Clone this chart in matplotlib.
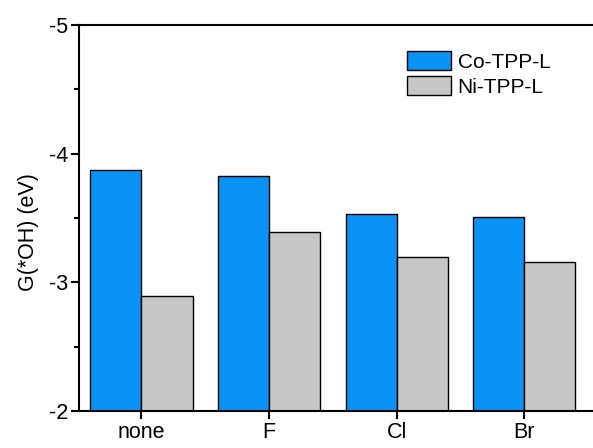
import numpy as np
import matplotlib
matplotlib.use('Agg')
import matplotlib.pyplot as plt
from matplotlib.ticker import MultipleLocator

# Daten
categories = ['none', 'F', 'Cl', 'Br']
co_values = [-3.87, -3.83, -3.53, -3.51]
ni_values = [-2.89, -3.39, -3.20, -3.16]
series_labels = ['Co-TPP-L', 'Ni-TPP-L']

plt.rcParams['font.family'] = ['Liberation Sans', 'DejaVu Sans']

fig = plt.figure(figsize=(5.93, 4.48), dpi=100)
ax = fig.add_axes([0.1332, 0.0826, 0.8668, 0.8616])

x = np.arange(len(categories))
base = -2
w = 0.4
ax.bar(x - w / 2, np.array(co_values) - base, width=w, bottom=base,
       color='#0A93F5', edgecolor='black', linewidth=1.0, label=series_labels[0])
ax.bar(x + w / 2, np.array(ni_values) - base, width=w, bottom=base,
       color='#C6C6C6', edgecolor='black', linewidth=1.0, label=series_labels[1])

ax.set_ylim(-2, -5)
ax.set_xlim(-0.49, 3.54)
ax.yaxis.set_minor_locator(MultipleLocator(0.5))
ax.set_yticks([-5, -4, -3, -2])
ax.set_yticklabels(['-5', '-4', '-3', '-2'])
ax.set_xticks(x)
ax.set_xticklabels(categories)

ax.tick_params(axis='both', which='major', direction='out', length=6, width=1.5, labelsize=15.5, pad=2)
ax.tick_params(axis='y', which='minor', direction='out', length=3.5, width=1.5)
ax.spines['right'].set_visible(False)
for s in ['left', 'top', 'bottom']:
    ax.spines[s].set_linewidth(1.5)

ax.set_ylabel('G(*OH) (eV)', fontsize=15.5)
ax.yaxis.label.set_va('center')
ax.yaxis.set_label_coords(-0.099, 0.464)

ax.legend(loc='upper left', bbox_to_anchor=(0.638, 0.933), frameon=False, fontsize=15,
          handlelength=2.1, handleheight=1.06, labelspacing=0.2, handletextpad=0.33,
          borderpad=0, borderaxespad=0)

fig.savefig('out.png', dpi=100)
